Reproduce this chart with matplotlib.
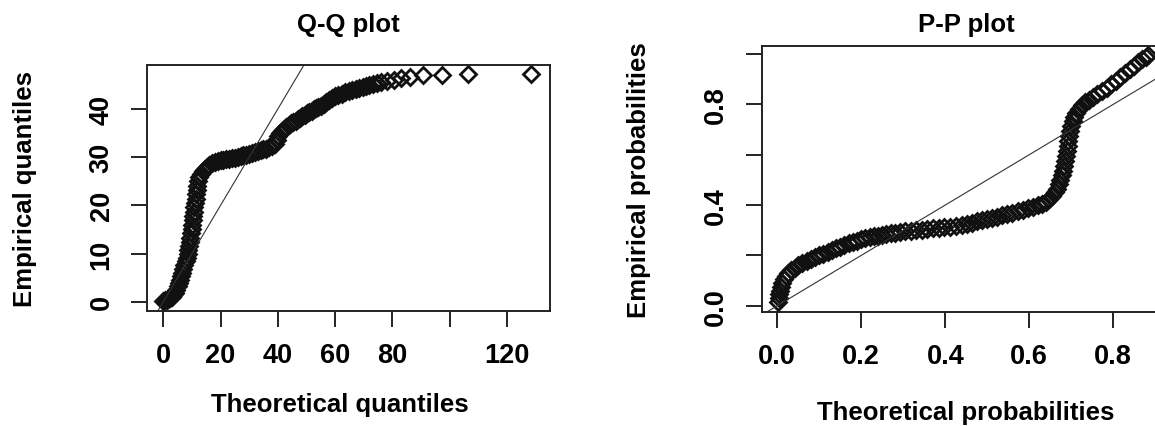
import matplotlib
matplotlib.use("Agg")
import matplotlib.pyplot as plt

# ---------------- data ----------------
qq_theoretical = [0.0, 0.6, 1.2, 1.8, 2.4, 3.0, 3.5, 4.0, 4.5, 5.0, 5.4, 5.8, 6.2, 6.6, 7.0, 7.4,
                  7.8, 8.2, 8.5, 8.8, 9.1, 9.3, 9.5, 9.7, 9.9, 10.1, 10.3, 10.5, 10.7, 10.9, 11.1,
                  11.3, 11.5, 11.7, 11.9, 12.2, 12.6, 13.1, 13.7, 14.4, 15.2, 16.1, 17.0, 18.0,
                  19.0, 20.0, 21.0, 22.0, 23.0, 24.0, 25.0, 26.0, 27.0, 28.0, 29.0, 30.0, 31.0,
                  32.0, 33.0, 34.0, 35.0, 36.0, 37.0, 38.0, 39.0, 39.6, 40.0, 40.6, 41.4, 42.2,
                  43.0, 43.8, 44.6, 45.4, 46.2, 47.0, 47.8, 48.6, 49.4, 50.2, 51.0, 51.8, 52.6,
                  53.4, 54.2, 55.0, 56.0, 57.0, 58.0, 59.0, 60.0, 61.2, 62.4, 63.6, 64.8, 66.0,
                  67.2, 68.4, 69.6, 70.8, 72.0, 73.3, 74.6, 76.0, 78.2, 80.6, 83.2, 86.2, 90.6,
                  97.3, 106.5, 128.3]
qq_empirical = [0.2, 0.3, 0.4, 0.5, 0.7, 1.0, 1.4, 1.9, 2.5, 3.2, 3.9, 4.6, 5.3, 6.0, 6.8, 7.6,
                8.4, 9.1, 9.9, 10.7, 11.6, 12.4, 13.3, 14.2, 15.1, 16.0, 16.9, 17.8, 18.7, 19.6,
                20.5, 21.4, 22.3, 23.2, 24.1, 25.0, 25.8, 26.5, 27.1, 27.6, 28.0, 28.4, 28.7,
                29.0, 29.2, 29.4, 29.5, 29.6, 29.7, 29.8, 29.9, 30.0, 30.2, 30.4, 30.5, 30.7,
                30.9, 31.0, 31.2, 31.4, 31.6, 31.8, 32.1, 32.4, 32.8, 33.5, 34.4, 35.0, 35.4,
                35.8, 36.2, 36.6, 37.0, 37.3, 37.6, 37.9, 38.2, 38.5, 38.8, 39.1, 39.4, 39.6,
                39.9, 40.2, 40.4, 40.7, 41.1, 41.5, 41.9, 42.2, 42.6, 42.9, 43.2, 43.5, 43.8,
                44.0, 44.2, 44.4, 44.6, 44.8, 45.0, 45.2, 45.4, 45.6, 45.8, 46.1, 46.4, 46.7,
                47.0, 47.1, 47.3, 47.3]

pp_theoretical = [0.002, 0.003, 0.004, 0.006, 0.008, 0.011, 0.015, 0.020, 0.026, 0.033, 0.041,
                  0.050, 0.060, 0.070, 0.080, 0.090, 0.100, 0.110, 0.120, 0.130, 0.140, 0.150,
                  0.160, 0.170, 0.180, 0.190, 0.200, 0.210, 0.220, 0.230, 0.240, 0.250, 0.260,
                  0.270, 0.280, 0.292, 0.305, 0.318, 0.331, 0.344, 0.357, 0.370, 0.384, 0.398,
                  0.412, 0.426, 0.440, 0.452, 0.464, 0.476, 0.488, 0.500, 0.512, 0.524, 0.536,
                  0.548, 0.560, 0.572, 0.584, 0.596, 0.608, 0.620, 0.630, 0.640, 0.648, 0.655,
                  0.661, 0.666, 0.670, 0.674, 0.677, 0.680, 0.683, 0.685, 0.687, 0.689, 0.691,
                  0.693, 0.695, 0.697, 0.700, 0.703, 0.707, 0.712, 0.718, 0.725, 0.733, 0.742,
                  0.752, 0.762, 0.773, 0.784, 0.795, 0.806, 0.817, 0.828, 0.839, 0.850, 0.860,
                  0.869, 0.877, 0.882]
pp_empirical = [0.015, 0.030, 0.045, 0.060, 0.075, 0.090, 0.105, 0.118, 0.130, 0.141, 0.151,
                0.161, 0.170, 0.178, 0.186, 0.193, 0.200, 0.207, 0.214, 0.221, 0.228, 0.235,
                0.242, 0.248, 0.254, 0.259, 0.264, 0.268, 0.272, 0.275, 0.278, 0.281, 0.284,
                0.287, 0.290, 0.293, 0.296, 0.298, 0.300, 0.302, 0.305, 0.307, 0.309, 0.311,
                0.314, 0.318, 0.322, 0.326, 0.330, 0.335, 0.339, 0.344, 0.349, 0.354, 0.359,
                0.364, 0.369, 0.375, 0.381, 0.387, 0.393, 0.399, 0.406, 0.414, 0.424, 0.436,
                0.450, 0.465, 0.482, 0.500, 0.518, 0.537, 0.556, 0.576, 0.596, 0.616, 0.636,
                0.656, 0.676, 0.695, 0.714, 0.732, 0.750, 0.767, 0.782, 0.796, 0.808, 0.819,
                0.830, 0.840, 0.852, 0.866, 0.880, 0.894, 0.909, 0.924, 0.939, 0.954, 0.968,
                0.980, 0.990, 0.996]

qq_xticks = [0, 20, 40, 60, 80, 100, 120]
qq_xticklabels = ["0", "20", "40", "60", "80", "", "120"]
qq_yticks = [0, 10, 20, 30, 40]
qq_yticklabels = ["0", "10", "20", "30", "40"]
pp_xticks = [0.0, 0.2, 0.4, 0.6, 0.8]
pp_xticklabels = ["0.0", "0.2", "0.4", "0.6", "0.8"]
pp_yticks = [0.0, 0.2, 0.4, 0.6, 0.8, 1.0]
pp_yticklabels = ["0.0", "", "0.4", "", "0.8", ""]

# ---------------- figure ----------------
W, H = 1155, 427
fig = plt.figure(figsize=(W / 100, H / 100), dpi=100)
plt.rcParams['font.family'] = ['Liberation Sans', 'DejaVu Sans']

FS_TICK = 19.5
FS_LAB = 18.5
FS_TITLE = 18.5
dark = '#222222'


def px_axes(l, t, r, b):
    return fig.add_axes([l / W, 1 - b / H, (r - l) / W, (b - t) / H])


def style(ax):
    for s in ax.spines.values():
        s.set_linewidth(1.4)
        s.set_color(dark)
    ax.tick_params(direction='out', length=11.5, width=1.4, color=dark,
                   labelsize=FS_TICK)
    ax.tick_params(axis='x', pad=11)
    ax.tick_params(axis='y', pad=12)
    for lab in ax.get_xticklabels() + ax.get_yticklabels():
        lab.set_fontweight('bold')


MK = dict(linestyle='none', marker='D', ms=8.3, mfc='none', mec='#111111', mew=2.0)

# Q-Q plot
ax1 = px_axes(147.3, 65.7, 550.0, 311.7)
ax1.plot(qq_theoretical, qq_empirical, **MK)
ax1.axline((0, 0), slope=1, color='#333333', lw=0.8)
ax1.set_xlim(-5.59, 135.1)
ax1.set_ylim(-1.87, 49.2)
ax1.set_xticks(qq_xticks, qq_xticklabels)
ax1.set_yticks(qq_yticks, qq_yticklabels)
for lab in ax1.get_yticklabels():
    lab.set_rotation(90)
    lab.set_va('center')
style(ax1)

# P-P plot
ax2 = px_axes(761.7, 46.7, 1161.6, 312.7)
ax2.plot(pp_theoretical, pp_empirical, **MK)
ax2.axline((0, 0), slope=1, color='#333333', lw=0.8)
ax2.set_xlim(-0.0371, 0.915)
ax2.set_ylim(-0.0238, 1.033)
ax2.set_xticks(pp_xticks, pp_xticklabels)
ax2.set_yticks(pp_yticks, pp_yticklabels)
for lab in ax2.get_yticklabels():
    lab.set_rotation(90)
    lab.set_va('center')
style(ax2)


def ftext(x, y, s, size, **kw):
    fig.text(x / W, 1 - y / H, s, ha='center', va='center', fontsize=size,
             fontweight='bold', **kw)


ftext(348.5, 25, "Q-Q plot", FS_TITLE)
ftext(966, 25, "P-P plot", FS_TITLE)
ftext(340, 405, "Theoretical quantiles", FS_LAB)
ftext(966, 413, "Theoretical probabilities", FS_LAB)
ftext(25, 189, "Empirical quantiles", FS_LAB, rotation=90)
ftext(639, 180, "Empirical probabilities", FS_LAB, rotation=90)

fig.savefig("out.png", dpi=100)
